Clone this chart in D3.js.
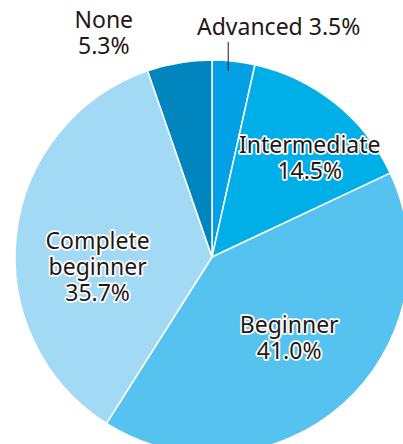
<!DOCTYPE html>
<html>
<head>
<meta charset="utf-8">
<script src="https://cdn.jsdelivr.net/npm/d3@7"></script>
<style>
  html, body { margin: 0; padding: 0; background: #fff; }
  svg { display: block; }
</style>
</head>
<body>
<div id="chart-container"></div>
<script>
const categories = ['Advanced', 'Intermediate', 'Beginner', 'Complete beginner', 'None']
const shares = [3.5, 14.5, 41.0, 35.7, 5.3]
const labelLines = [
  ['Advanced 3.5%'],
  ['Intermediate', '14.5%'],
  ['Beginner', '41.0%'],
  ['Complete', 'beginner', '35.7%'],
  ['None', '5.3%'],
]

// Options:
const width = 403
const height = 444
const cx = 212
const cy = 257
const radius = 197
const colors = ['#03a0e6', '#00aee8', '#56c2f0', '#a2d9f5', '#0085bf']
const textColor = '#231815'
const fontSize = 23
const lineHeight = 26

// label placement: [radius factor, nudge x, nudge y]
const labelPlace = [
  [1.14, 42, -7],
  [0.68, 14, 5],
  [0.6, -1, -8],
  [0.6, 3, 24],
  [1.14, -71, -3],
]

const svg = d3
  .select('#chart-container')
  .append('svg')
  .attr('width', width)
  .attr('height', height)
  .attr('viewBox', `0 0 ${width} ${height}`)

const g = svg.append('g').attr('transform', `translate(${cx}, ${cy})`)

const data = categories.map((c, i) => ({ name: c, value: shares[i], i }))

const pie = d3.pie().sort(null).value(d => d.value)
const arcs = pie(data)

const arc = d3.arc().innerRadius(0).outerRadius(radius)

g.selectAll('path.slice')
  .data(arcs)
  .join('path')
  .attr('class', 'slice')
  .attr('d', arc)
  .attr('fill', d => colors[d.data.i])
  .attr('stroke', '#fff')
  .attr('stroke-width', 1.5)
  .attr('stroke-linejoin', 'round')

// leader line for the thin slice
const adv = arcs[0]
const advMid = (adv.startAngle + adv.endAngle) / 2
const leaderX = radius * 0.75 * Math.sin(advMid)
g.append('line')
  .attr('x1', leaderX)
  .attr('x2', leaderX)
  .attr('y1', -radius - 18)
  .attr('y2', -radius + 11)
  .attr('stroke', textColor)
  .attr('stroke-width', 1)

const labels = g
  .selectAll('text.label')
  .data(arcs)
  .join('text')
  .attr('class', 'label')
  .attr('font-family', '"Noto Sans", "Open Sans", sans-serif')
  .attr('font-size', fontSize)
  .attr('fill', textColor)
  .attr('text-anchor', 'middle')
  .attr('stroke', d => (d.index === 0 || d.index === 4 ? 'none' : '#fff'))
  .attr('stroke-width', 3.5)
  .attr('stroke-linejoin', 'round')
  .attr('paint-order', 'stroke')
  .attr('transform', d => {
    const [f, nx, ny] = labelPlace[d.index]
    const a = (d.startAngle + d.endAngle) / 2
    const n = labelLines[d.index].length
    const x = radius * f * Math.sin(a) + nx
    const y = -radius * f * Math.cos(a) + ny - ((n - 1) * lineHeight) / 2
    return `translate(${x}, ${y})`
  })

labels
  .selectAll('tspan')
  .data(d => labelLines[d.index])
  .join('tspan')
  .attr('x', 0)
  .attr('dy', (d, i) => (i === 0 ? '0.35em' : lineHeight))
  .text(d => d)
</script>
</body>
</html>
